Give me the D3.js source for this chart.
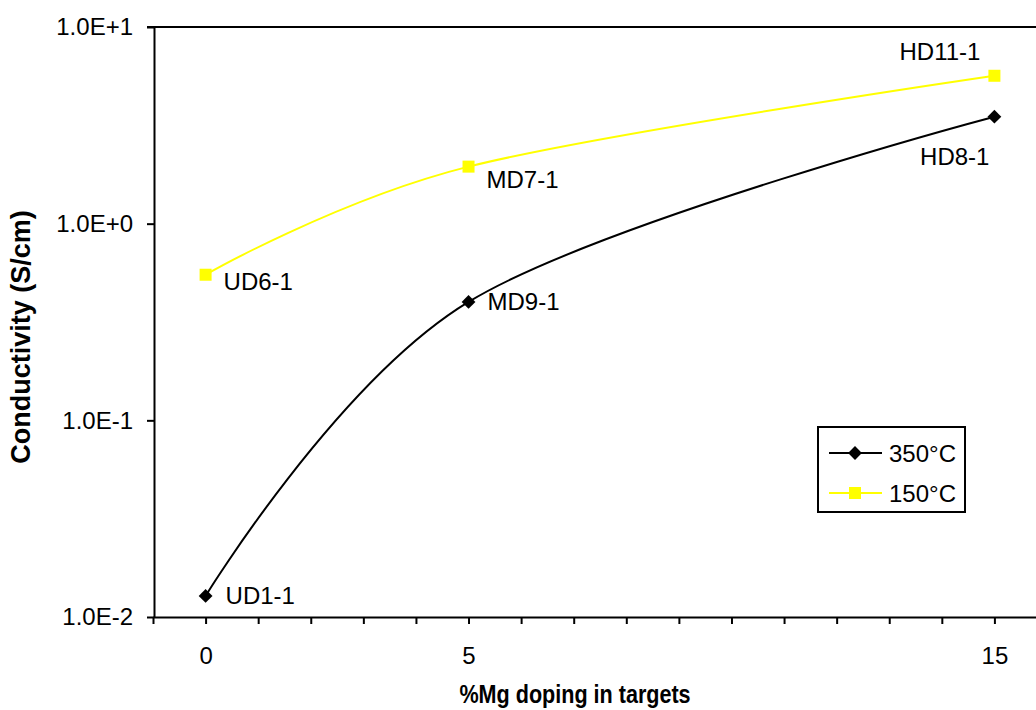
<!DOCTYPE html>
<html>
<head>
<meta charset="utf-8">
<script src="https://cdn.jsdelivr.net/npm/d3@7"></script>
<style>
  body { margin: 0; background: #fff; }
  svg { display: block; font-family: "Liberation Sans", Arial, sans-serif; }
</style>
</head>
<body>
<svg width="1036" height="710"></svg>
<script>
// data
const dopings = [0, 5, 15];
const cond350 = [0.0128, 0.40, 3.5];
const cond150 = [0.55, 1.95, 5.65];
const names350 = ['UD1-1', 'MD9-1', 'HD8-1'];
const names150 = ['UD6-1', 'MD7-1', 'HD11-1'];
const seriesNames = ['350°C', '150°C'];
const yTicks = [0.01, 0.1, 1, 10];
const yTickLabels = ['1.0E-2', '1.0E-1', '1.0E+0', '1.0E+1'];
const xTickLabels = [0, 5, 15];

const svg = d3.select('svg');
const W = +svg.attr('width');
const H = +svg.attr('height');

const x = d3.scaleLinear().domain([-1, 16]).range([153, 1047]);
const y = d3.scaleLog().domain([0.01, 10]).range([617, 27]);

// top border line
svg.append('line')
    .attr('x1', 147).attr('x2', W)
    .attr('y1', y(10)).attr('y2', y(10))
    .attr('stroke', '#000').attr('stroke-width', 2);

// y axis
const yAxis = svg.append('g')
    .attr('transform', `translate(${x(-1) + 1},0)`)
    .call(d3.axisLeft(y)
        .tickValues(yTicks)
        .tickFormat((d, i) => yTickLabels[i])
        .tickSize(7)
        .tickSizeOuter(0)
        .tickPadding(14));

// x axis
const xAxis = svg.append('g')
    .attr('transform', `translate(0,${y(0.01)})`)
    .call(d3.axisBottom(x)
        .tickValues(d3.range(-1, 17))
        .tickFormat(d => xTickLabels.includes(d) ? d : '')
        .tickSize(7)
        .tickSizeOuter(0)
        .tickPadding(23));

[yAxis, xAxis].forEach(a => {
    a.select('.domain').attr('stroke', '#000').attr('stroke-width', 2);
    a.selectAll('.tick line').attr('stroke', '#000').attr('stroke-width', 2);
    a.selectAll('.tick text')
        .attr('fill', '#000')
        .style('font-size', '24px')
        .style('font-family', '"Liberation Sans", Arial, sans-serif');
});

// axis titles (x title is condensed in the original)
svg.append('text')
    .attr('transform', 'translate(575,703) scale(0.83,1)')
    .attr('text-anchor', 'middle')
    .style('font-size', '26px').style('font-weight', 'bold')
    .text('%Mg doping in targets');

svg.append('text')
    .attr('transform', 'translate(30,337) rotate(-90)')
    .attr('text-anchor', 'middle')
    .style('font-size', '27px').style('font-weight', 'bold')
    .text('Conductivity (S/cm)');

const line = d3.line()
    .x(d => x(d[0]))
    .y(d => y(d[1]))
    .curve(d3.curveCardinal.tension(0));

const pts350 = dopings.map((d, i) => [d, cond350[i], names350[i]]);
const pts150 = dopings.map((d, i) => [d, cond150[i], names150[i]]);

// lines
svg.append('path').datum(pts150)
    .attr('d', line).attr('fill', 'none')
    .attr('stroke', '#ffff00').attr('stroke-width', 2);
svg.append('path').datum(pts350)
    .attr('d', line).attr('fill', 'none')
    .attr('stroke', '#000').attr('stroke-width', 2);

const diamond = d3.symbol().type(d3.symbolSquare).size(95);

// markers
svg.selectAll('.m150').data(pts150).enter().append('rect')
    .attr('x', d => x(d[0]) - 6).attr('y', d => y(d[1]) - 6)
    .attr('width', 12).attr('height', 12)
    .attr('fill', '#ffff00');
svg.selectAll('.m350').data(pts350).enter().append('path')
    .attr('d', diamond)
    .attr('transform', d => `translate(${x(d[0])},${y(d[1])}) rotate(45)`)
    .attr('fill', '#000');

// point labels (offsets from point: dx, dy, anchor)
const off350 = [[20, 8, 'start'], [19, 8, 'start'], [-5, 48, 'end']];
const off150 = [[18, 15, 'start'], [18, 21, 'start'], [-14, -16, 'end']];

function labels(pts, off) {
    svg.append('g').selectAll('text').data(pts).enter().append('text')
        .attr('x', (d, i) => x(d[0]) + off[i][0])
        .attr('y', (d, i) => y(d[1]) + off[i][1])
        .attr('text-anchor', (d, i) => off[i][2])
        .style('font-size', '24px')
        .text(d => d[2]);
}
labels(pts350, off350);
labels(pts150, off150);

// legend
const lg = svg.append('g').attr('transform', 'translate(818,427)');
lg.append('rect')
    .attr('width', 147).attr('height', 85)
    .attr('fill', '#fff').attr('stroke', '#000').attr('stroke-width', 2);
const lgColors = ['#000', '#ffff00'];
seriesNames.forEach((s, i) => {
    const yy = 26 + i * 40;
    lg.append('line')
        .attr('x1', 11).attr('x2', 64).attr('y1', yy).attr('y2', yy)
        .attr('stroke', lgColors[i]).attr('stroke-width', 2);
    if (i === 0) {
        lg.append('path').attr('d', diamond)
            .attr('transform', `translate(37,${yy}) rotate(45)`)
            .attr('fill', '#000');
    } else {
        lg.append('rect')
            .attr('x', 31).attr('y', yy - 6)
            .attr('width', 12).attr('height', 12)
            .attr('fill', '#ffff00');
    }
    lg.append('text')
        .attr('x', 71).attr('y', yy + 9)
        .style('font-size', '24px')
        .text(s);
});
</script>
</body>
</html>
